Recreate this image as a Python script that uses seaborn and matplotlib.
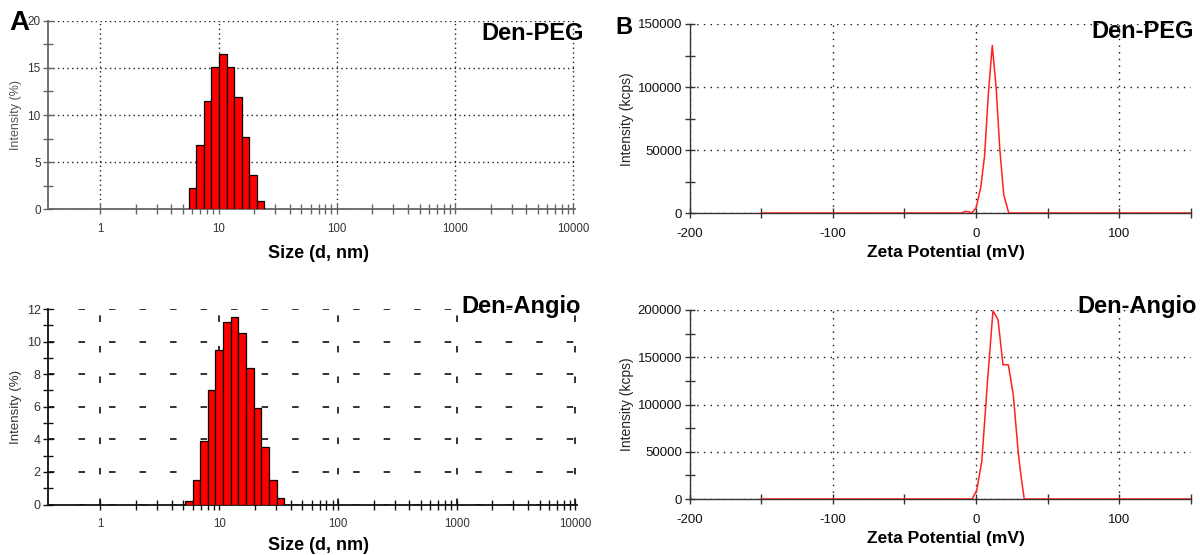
import numpy as np
import pandas as pd
import matplotlib
matplotlib.use("Agg")
import matplotlib.pyplot as plt
from matplotlib.ticker import FixedLocator, FixedFormatter, NullFormatter
import seaborn as sns

# ---------------- data ----------------
peg_size_edges = [5.6, 6.5, 7.5, 8.7, 10.1, 11.7, 13.5, 15.7, 18.2, 21.0, 24.4]
peg_size_intensity = [2.3, 6.8, 11.5, 15.1, 16.5, 15.1, 11.9, 7.7, 3.7, 0.9]

angio_size_edges = [5.2, 6.0, 6.95, 8.05, 9.3, 10.8, 12.5, 14.5, 16.8, 19.6, 22.7, 26.3, 30.5, 35.4]
angio_size_intensity = [0.2, 1.5, 3.9, 7.0, 9.5, 11.2, 11.5, 10.5, 8.4, 5.9, 3.5, 1.5, 0.4]

peg_zeta_mv = [-150, -10, -8, -5, -3, 0, 3.2, 5.9, 8.6, 11.3, 14, 16.6, 19.3, 22.8, 150]
peg_zeta_kcps = [0, 0, 1200, 1000, 0, 4000, 20000, 45000, 95000, 133000, 99500, 50000, 14600, 0, 0]

angio_zeta_mv = [-150, -2.7, 0.5, 4, 8, 11.8, 15.3, 18.8, 22.5, 26, 29.5, 31.4, 33.6, 150]
angio_zeta_kcps = [0, 0, 9500, 40000, 125000, 199000, 190000, 142000, 142000, 110000, 48000, 24000, 0, 0]

size_ticks = [1, 10, 100, 1000, 10000]
size_tick_labels = ["1", "10", "100", "1000", "10000"]
peg_size_yticks = [0, 5, 10, 15, 20]
angio_size_yticks = [0, 2, 4, 6, 8, 10, 12]
zeta_xticks = [-200, -100, 0, 100]
zeta_xtick_labels = ["-200", "-100", "0", "100"]
peg_zeta_yticks = [0, 50000, 100000, 150000]
angio_zeta_yticks = [0, 50000, 100000, 150000, 200000]

sns.set_style("white")
plt.rcParams['font.family'] = ['Liberation Sans', 'DejaVu Sans']
plt.rcParams['axes.unicode_minus'] = False
plt.rcParams['text.color'] = 'black'

W, H = 1200, 555
fig = plt.figure(figsize=(W / 100, H / 100), dpi=100)


def px_axes(l, t, r, b):
    return fig.add_axes([l / W, 1 - b / H, (r - l) / W, (b - t) / H])


def ftext(x, y, s, **kw):
    kw.setdefault("color", "black")
    fig.text(x / W, 1 - y / H, s, **kw)


def size_panel(ax, edges, heights, yticks, ymax, ymin_step, grid_ls, spine_col, grid_lw, ylab_size):
    e = np.array(edges)
    df = pd.DataFrame({"size": np.sqrt(e[:-1] * e[1:]), "intensity": heights})
    sns.histplot(data=df, x="size", weights="intensity", bins=edges, ax=ax,
                 color="#ff0000", edgecolor="black", linewidth=0.9, alpha=1, zorder=3)
    ax.set_xscale("log")
    ax.set_xlim(0.36, 10300)
    ax.set_ylim(0, ymax)
    ax.set_xlabel("")
    ax.set_ylabel("")
    ax.xaxis.set_major_locator(FixedLocator(size_ticks))
    ax.xaxis.set_major_formatter(FixedFormatter(size_tick_labels))
    minors = [m * 10 ** k for k in range(0, 4) for m in range(2, 10)]
    ax.xaxis.set_minor_locator(FixedLocator(minors))
    ax.xaxis.set_minor_formatter(NullFormatter())
    ax.yaxis.set_major_locator(FixedLocator(yticks))
    ax.yaxis.set_major_formatter(FixedFormatter([str(v) for v in yticks]))
    ax.yaxis.set_minor_locator(FixedLocator(list(np.arange(ymin_step, ymax, 2 * ymin_step))))
    for s in ["top", "right"]:
        ax.spines[s].set_visible(False)
    for s in ["left", "bottom"]:
        ax.spines[s].set_color(spine_col)
        ax.spines[s].set_linewidth(1.3)
    ax.tick_params(axis="x", which="both", bottom=True, direction="inout", length=7, width=1,
                   color=spine_col, pad=6, labelsize=8.3, labelcolor="#333")
    ax.tick_params(axis="y", which="both", left=True, direction="inout", length=7, width=1,
                   color=spine_col, pad=1.5, labelsize=ylab_size, labelcolor="#333")
    ax.set_axisbelow(True)
    ax.grid(True, which="major", color="#222", linestyle=grid_ls, linewidth=grid_lw)
    ax.grid(False, which="minor")
    ax.patch.set_alpha(0)


def zeta_panel(ax, mv, kcps, yticks, ymax):
    df = pd.DataFrame({"mv": mv, "kcps": kcps})
    sns.lineplot(data=df, x="mv", y="kcps", ax=ax, color="#ff2020", linewidth=1.1, zorder=3)
    ax.set_xlim(-200, 150)
    ax.set_ylim(0, ymax)
    ax.set_xlabel("")
    ax.set_ylabel("")
    ax.xaxis.set_major_locator(FixedLocator(zeta_xticks))
    ax.xaxis.set_major_formatter(FixedFormatter(zeta_xtick_labels))
    ax.xaxis.set_minor_locator(FixedLocator([-150, -50, 50, 150]))
    ax.yaxis.set_major_locator(FixedLocator(yticks))
    ax.yaxis.set_major_formatter(FixedFormatter([str(v) for v in yticks]))
    ax.yaxis.set_minor_locator(FixedLocator(list(np.arange(25000, ymax, 50000))))
    for s in ["top", "right"]:
        ax.spines[s].set_visible(False)
    for s in ["left", "bottom"]:
        ax.spines[s].set_color("#333")
        ax.spines[s].set_linewidth(1.0)
    ax.tick_params(axis="x", which="both", bottom=True, direction="inout", length=7, width=1,
                   color="#333", pad=7, labelsize=9.5, labelcolor="#111")
    ax.tick_params(axis="y", which="both", left=True, direction="inout", length=7, width=1,
                   color="#333", pad=2, labelsize=9.5, labelcolor="#111")
    ax.set_axisbelow(True)
    ax.grid(True, which="major", color="#111", linestyle=(0, (1, 3.8)), linewidth=1.0)
    ax.grid(False, which="minor")
    ax.patch.set_alpha(0)


# ---------------- panels ----------------
ax_tl = px_axes(47.7, 20.7, 575, 209.5)
size_panel(ax_tl, peg_size_edges, peg_size_intensity, peg_size_yticks, 20, 2.5,
           (0, (1, 2.4)), "#666", 1.0, 8.5)

ax_bl = px_axes(47.7, 309, 577, 504.5)
size_panel(ax_bl, angio_size_edges, angio_size_intensity, angio_size_yticks, 12, 1,
           (0, (3.6, 13.3)), "#111", 1.3, 9)

ax_tr = px_axes(689.5, 24, 1191, 213)
zeta_panel(ax_tr, peg_zeta_mv, peg_zeta_kcps, peg_zeta_yticks, 150000)

ax_br = px_axes(689.5, 310, 1191, 499)
zeta_panel(ax_br, angio_zeta_mv, angio_zeta_kcps, angio_zeta_yticks, 200000)

# ---------------- texts ----------------
ftext(19, 23, "A", fontsize=20, fontweight="bold", ha="center", va="center")
ftext(624, 27, "B", fontsize=17, fontweight="bold", ha="center", va="center")

ftext(584, 33, "Den-PEG", fontsize=17, fontweight="bold", ha="right", va="center")
ftext(1194, 32, "Den-PEG", fontsize=17, fontweight="bold", ha="right", va="center")
ftext(581, 307, "Den-Angio", fontsize=17, fontweight="bold", ha="right", va="center")
ftext(1197, 307, "Den-Angio", fontsize=17, fontweight="bold", ha="right", va="center")

ftext(318, 254, "Size (d, nm)", fontsize=13, fontweight="bold", ha="center", va="center")
ftext(318, 546, "Size (d, nm)", fontsize=13, fontweight="bold", ha="center", va="center")
ftext(946, 253, "Zeta Potential (mV)", fontsize=12.5, fontweight="bold", ha="center", va="center")
ftext(946, 538, "Zeta Potential (mV)", fontsize=12.5, fontweight="bold", ha="center", va="center")

ftext(16, 115, "Intensity (%)", fontsize=9, color="#555", rotation=90, ha="center", va="center")
ftext(16, 407, "Intensity (%)", fontsize=9.5, color="#333", rotation=90, ha="center", va="center")
ftext(627, 119, "Intensity (kcps)", fontsize=10, color="#222", rotation=90, ha="center", va="center")
ftext(627, 404, "Intensity (kcps)", fontsize=10, color="#222", rotation=90, ha="center", va="center")

fig.savefig("out.png", dpi=100)
